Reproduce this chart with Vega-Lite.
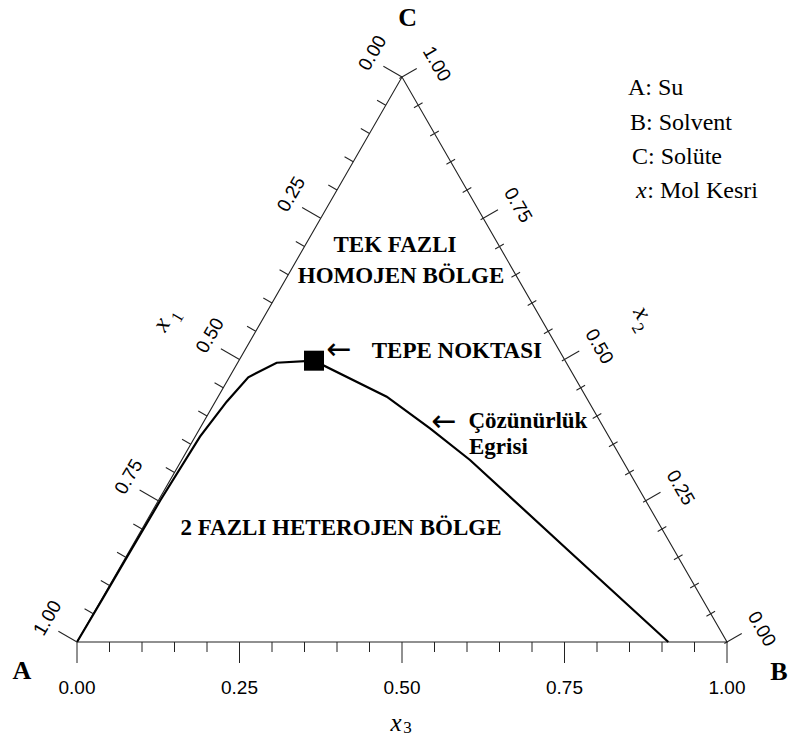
{
  "$schema": "https://vega.github.io/schema/vega-lite/v6.json",
  "width": 650,
  "height": 565,
  "autosize": {"type": "none"},
  "padding": {"left": 77, "top": 77, "right": 63, "bottom": 98},
  "background": "white",
  "config": {"view": {"stroke": null}},
  "datasets": {
    "triangle": [
      {"x": 0, "y": 0, "o": 1},
      {"x": 0.5, "y": 1, "o": 2},
      {"x": 1, "y": 0, "o": 3},
      {"x": 0, "y": 0, "o": 4}
    ],
    "curve": [
      {"x": 0, "y": 0, "o": 1},
      {"x": 0.0392, "y": 0.0761, "o": 2},
      {"x": 0.0772, "y": 0.151, "o": 3},
      {"x": 0.1285, "y": 0.2513, "o": 4},
      {"x": 0.1892, "y": 0.3634, "o": 5},
      {"x": 0.2303, "y": 0.4253, "o": 6},
      {"x": 0.2635, "y": 0.4685, "o": 7},
      {"x": 0.3072, "y": 0.4943, "o": 8},
      {"x": 0.3646, "y": 0.4979, "o": 9},
      {"x": 0.4765, "y": 0.4342, "o": 10},
      {"x": 0.5431, "y": 0.3782, "o": 11},
      {"x": 0.6046, "y": 0.3221, "o": 12},
      {"x": 0.7585, "y": 0.1593, "o": 13},
      {"x": 0.9097, "y": 0, "o": 14}
    ],
    "peak": [{"x": 0.3646, "y": 0.4979}],
    "bottom": [
      {"v": 0, "x": 0, "y": 0, "major": true},
      {"v": 0.05, "x": 0.05, "y": 0, "major": false},
      {"v": 0.1, "x": 0.1, "y": 0, "major": false},
      {"v": 0.15, "x": 0.15, "y": 0, "major": false},
      {"v": 0.2, "x": 0.2, "y": 0, "major": false},
      {"v": 0.25, "x": 0.25, "y": 0, "major": true},
      {"v": 0.3, "x": 0.3, "y": 0, "major": false},
      {"v": 0.35, "x": 0.35, "y": 0, "major": false},
      {"v": 0.4, "x": 0.4, "y": 0, "major": false},
      {"v": 0.45, "x": 0.45, "y": 0, "major": false},
      {"v": 0.5, "x": 0.5, "y": 0, "major": true},
      {"v": 0.55, "x": 0.55, "y": 0, "major": false},
      {"v": 0.6, "x": 0.6, "y": 0, "major": false},
      {"v": 0.65, "x": 0.65, "y": 0, "major": false},
      {"v": 0.7, "x": 0.7, "y": 0, "major": false},
      {"v": 0.75, "x": 0.75, "y": 0, "major": true},
      {"v": 0.8, "x": 0.8, "y": 0, "major": false},
      {"v": 0.85, "x": 0.85, "y": 0, "major": false},
      {"v": 0.9, "x": 0.9, "y": 0, "major": false},
      {"v": 0.95, "x": 0.95, "y": 0, "major": false},
      {"v": 1, "x": 1, "y": 0, "major": true}
    ],
    "left": [
      {"v": 0, "x": 0.5, "y": 1, "major": true},
      {"v": 0.05, "x": 0.475, "y": 0.95, "major": false},
      {"v": 0.1, "x": 0.45, "y": 0.9, "major": false},
      {"v": 0.15, "x": 0.425, "y": 0.85, "major": false},
      {"v": 0.2, "x": 0.4, "y": 0.8, "major": false},
      {"v": 0.25, "x": 0.375, "y": 0.75, "major": true},
      {"v": 0.3, "x": 0.35, "y": 0.7, "major": false},
      {"v": 0.35, "x": 0.325, "y": 0.65, "major": false},
      {"v": 0.4, "x": 0.3, "y": 0.6, "major": false},
      {"v": 0.45, "x": 0.275, "y": 0.55, "major": false},
      {"v": 0.5, "x": 0.25, "y": 0.5, "major": true},
      {"v": 0.55, "x": 0.225, "y": 0.45, "major": false},
      {"v": 0.6, "x": 0.2, "y": 0.4, "major": false},
      {"v": 0.65, "x": 0.175, "y": 0.35, "major": false},
      {"v": 0.7, "x": 0.15, "y": 0.3, "major": false},
      {"v": 0.75, "x": 0.125, "y": 0.25, "major": true},
      {"v": 0.8, "x": 0.1, "y": 0.2, "major": false},
      {"v": 0.85, "x": 0.075, "y": 0.15, "major": false},
      {"v": 0.9, "x": 0.05, "y": 0.1, "major": false},
      {"v": 0.95, "x": 0.025, "y": 0.05, "major": false},
      {"v": 1, "x": 0, "y": 0, "major": true}
    ],
    "right": [
      {"v": 0, "x": 1, "y": 0, "major": true},
      {"v": 0.05, "x": 0.975, "y": 0.05, "major": false},
      {"v": 0.1, "x": 0.95, "y": 0.1, "major": false},
      {"v": 0.15, "x": 0.925, "y": 0.15, "major": false},
      {"v": 0.2, "x": 0.9, "y": 0.2, "major": false},
      {"v": 0.25, "x": 0.875, "y": 0.25, "major": true},
      {"v": 0.3, "x": 0.85, "y": 0.3, "major": false},
      {"v": 0.35, "x": 0.825, "y": 0.35, "major": false},
      {"v": 0.4, "x": 0.8, "y": 0.4, "major": false},
      {"v": 0.45, "x": 0.775, "y": 0.45, "major": false},
      {"v": 0.5, "x": 0.75, "y": 0.5, "major": true},
      {"v": 0.55, "x": 0.725, "y": 0.55, "major": false},
      {"v": 0.6, "x": 0.7, "y": 0.6, "major": false},
      {"v": 0.65, "x": 0.675, "y": 0.65, "major": false},
      {"v": 0.7, "x": 0.65, "y": 0.7, "major": false},
      {"v": 0.75, "x": 0.625, "y": 0.75, "major": true},
      {"v": 0.8, "x": 0.6, "y": 0.8, "major": false},
      {"v": 0.85, "x": 0.575, "y": 0.85, "major": false},
      {"v": 0.9, "x": 0.55, "y": 0.9, "major": false},
      {"v": 0.95, "x": 0.525, "y": 0.95, "major": false},
      {"v": 1, "x": 0.5, "y": 1, "major": true}
    ],
    "titles": [
      {"edge": "bottom", "x": 0.5, "y": 0},
      {"edge": "left", "x": 0.25, "y": 0.5},
      {"edge": "right", "x": 0.75, "y": 0.5}
    ],
    "notes": [
      {"kind": "region", "text": "TEK FAZLI", "x": 0.4892, "y": 0.6903},
      {"kind": "region", "text": "HOMOJEN BÖLGE", "x": 0.4985, "y": 0.6354},
      {"kind": "region", "text": "2 FAZLI HETEROJEN BÖLGE", "x": 0.4062, "y": 0.1894},
      {"kind": "callout", "text": "TEPE NOKTASI", "x": 0.4534, "y": 0.5027},
      {"kind": "callout", "text": "Çözünürlük", "x": 0.6023, "y": 0.3788},
      {"kind": "callout", "text": "Egrisi", "x": 0.6031, "y": 0.3327},
      {"kind": "arrow", "text": "←", "x": 0.4031, "y": 0.5168},
      {"kind": "arrow", "text": "←", "x": 0.5646, "y": 0.3899},
      {"kind": "legend", "text": "A: Su", "x": 0.8477, "y": 0.9681},
      {"kind": "legend", "text": "B: Solvent", "x": 0.8508, "y": 0.9062},
      {"kind": "legend", "text": "C: Solüte", "x": 0.8538, "y": 0.8469},
      {"kind": "legend", "text": ": Mol Kesri", "x": 0.8774, "y": 0.7867},
      {"kind": "legendx", "text": "x", "x": 0.86, "y": 0.7867},
      {"kind": "vertex", "text": "A", "x": -0.0846, "y": -0.0655},
      {"kind": "vertex", "text": "B", "x": 1.08, "y": -0.0673},
      {"kind": "vertex", "text": "C", "x": 0.5085, "y": 1.0903}
    ]
  },
  "encoding": {
    "x": {"field": "x", "type": "quantitative", "scale": {"domain": [0, 1], "nice": false, "zero": false}, "axis": null},
    "y": {"field": "y", "type": "quantitative", "scale": {"domain": [0, 1], "nice": false, "zero": false}, "axis": null}
  },
  "layer": [
    {
      "data": {"name": "triangle"},
      "mark": {"type": "line", "stroke": "#222", "strokeWidth": 1.1, "clip": false},
      "encoding": {"order": {"field": "o", "type": "quantitative"}}
    },
    {
      "data": {"name": "curve"},
      "mark": {"type": "line", "stroke": "#000", "strokeWidth": 2.2, "clip": false},
      "encoding": {"order": {"field": "o", "type": "quantitative"}}
    },
    {
      "data": {"name": "peak"},
      "mark": {"type": "point", "shape": "square", "filled": true, "size": 400, "color": "#000", "opacity": 1}
    },
    {
      "data": {"name": "bottom"},
      "transform": [{"filter": "datum.major"}],
      "mark": {"type": "point", "shape": "M0,0L0,1", "filled": false, "size": 1764, "stroke": "#222", "strokeWidth": 1, "opacity": 1}
    },
    {
      "data": {"name": "bottom"},
      "transform": [{"filter": "!datum.major"}],
      "mark": {"type": "point", "shape": "M0,0L0,1", "filled": false, "size": 400, "stroke": "#222", "strokeWidth": 1, "opacity": 1}
    },
    {
      "data": {"name": "left"},
      "transform": [{"filter": "datum.major"}],
      "mark": {"type": "point", "shape": "M0,0L0,-1", "angle": -60, "filled": false, "size": 1849, "stroke": "#222", "strokeWidth": 1, "opacity": 1}
    },
    {
      "data": {"name": "left"},
      "transform": [{"filter": "!datum.major"}],
      "mark": {"type": "point", "shape": "M0,0L0,-1", "angle": -60, "filled": false, "size": 400, "stroke": "#222", "strokeWidth": 1, "opacity": 1}
    },
    {
      "data": {"name": "right"},
      "transform": [{"filter": "datum.major"}],
      "mark": {"type": "point", "shape": "M0,0.18L0,-1", "angle": 60, "filled": false, "size": 1156, "stroke": "#222", "strokeWidth": 1, "opacity": 1}
    },
    {
      "data": {"name": "right"},
      "transform": [{"filter": "!datum.major"}],
      "mark": {"type": "point", "shape": "M0,0.5L0,-0.5", "angle": 60, "filled": false, "size": 400, "stroke": "#222", "strokeWidth": 1, "opacity": 1}
    },
    {
      "data": {"name": "bottom"},
      "transform": [{"filter": "datum.major"}],
      "mark": {"type": "text", "font": "Liberation Sans", "fontSize": 19, "align": "center", "baseline": "middle", "dy": 46, "color": "#000"},
      "encoding": {"text": {"field": "v", "type": "quantitative", "format": ".2f"}}
    },
    {
      "data": {"name": "left"},
      "transform": [{"filter": "datum.major"}],
      "mark": {"type": "text", "font": "Liberation Sans", "fontSize": 19, "align": "center", "baseline": "middle", "angle": -60, "dx": 6, "dy": -37.5, "color": "#000"},
      "encoding": {"text": {"field": "v", "type": "quantitative", "format": ".2f"}}
    },
    {
      "data": {"name": "right"},
      "transform": [{"filter": "datum.major"}],
      "mark": {"type": "text", "font": "Liberation Sans", "fontSize": 19, "align": "center", "baseline": "middle", "angle": 60, "dx": 6, "dy": -36.5, "color": "#000"},
      "encoding": {"text": {"field": "v", "type": "quantitative", "format": ".2f"}}
    },
    {
      "data": {"name": "titles"},
      "transform": [{"filter": "datum.edge === 'bottom'"}],
      "mark": {"type": "text", "text": "x", "font": "Liberation Serif", "fontStyle": "italic", "fontSize": 25, "align": "center", "baseline": "middle", "dx": -6, "dy": 80.5, "color": "#000"}
    },
    {
      "data": {"name": "titles"},
      "transform": [{"filter": "datum.edge === 'bottom'"}],
      "mark": {"type": "text", "text": "3", "font": "Liberation Serif", "fontSize": 17, "align": "center", "baseline": "middle", "dx": 5.5, "dy": 85.5, "color": "#000"}
    },
    {
      "data": {"name": "titles"},
      "transform": [{"filter": "datum.edge === 'left'"}],
      "mark": {"type": "text", "text": "x", "font": "Liberation Serif", "fontStyle": "italic", "fontSize": 25, "align": "center", "baseline": "middle", "angle": -60, "dx": -8.5, "dy": -85.5, "color": "#000"}
    },
    {
      "data": {"name": "titles"},
      "transform": [{"filter": "datum.edge === 'left'"}],
      "mark": {"type": "text", "text": "1", "font": "Liberation Serif", "fontSize": 17, "align": "center", "baseline": "middle", "angle": -60, "dx": 5.7, "dy": -74.5, "color": "#000"}
    },
    {
      "data": {"name": "titles"},
      "transform": [{"filter": "datum.edge === 'right'"}],
      "mark": {"type": "text", "text": "x", "font": "Liberation Serif", "fontStyle": "italic", "fontSize": 25, "align": "center", "baseline": "middle", "angle": 60, "dx": -1.7, "dy": -91, "color": "#000"}
    },
    {
      "data": {"name": "titles"},
      "transform": [{"filter": "datum.edge === 'right'"}],
      "mark": {"type": "text", "text": "2", "font": "Liberation Serif", "fontSize": 17, "align": "center", "baseline": "middle", "angle": 60, "dx": 9.6, "dy": -79, "color": "#000"}
    },
    {
      "data": {"name": "notes"},
      "transform": [{"filter": "datum.kind === 'region'"}],
      "mark": {"type": "text", "font": "Liberation Serif", "fontWeight": "bold", "fontSize": 23, "align": "center", "baseline": "alphabetic", "color": "#000"},
      "encoding": {"text": {"field": "text", "type": "nominal"}}
    },
    {
      "data": {"name": "notes"},
      "transform": [{"filter": "datum.kind === 'callout'"}],
      "mark": {"type": "text", "font": "Liberation Serif", "fontWeight": "bold", "fontSize": 23, "align": "left", "baseline": "alphabetic", "color": "#000"},
      "encoding": {"text": {"field": "text", "type": "nominal"}}
    },
    {
      "data": {"name": "notes"},
      "transform": [{"filter": "datum.kind === 'arrow'"}],
      "mark": {"type": "text", "font": "DejaVu Sans", "fontWeight": "normal", "fontSize": 30, "align": "center", "baseline": "middle", "color": "#000"},
      "encoding": {"text": {"field": "text", "type": "nominal"}}
    },
    {
      "data": {"name": "notes"},
      "transform": [{"filter": "datum.kind === 'legend'"}],
      "mark": {"type": "text", "font": "Liberation Serif", "fontSize": 24, "align": "left", "baseline": "alphabetic", "color": "#000"},
      "encoding": {"text": {"field": "text", "type": "nominal"}}
    },
    {
      "data": {"name": "notes"},
      "transform": [{"filter": "datum.kind === 'legendx'"}],
      "mark": {"type": "text", "font": "Liberation Serif", "fontStyle": "italic", "fontSize": 24, "align": "left", "baseline": "alphabetic", "color": "#000"},
      "encoding": {"text": {"field": "text", "type": "nominal"}}
    },
    {
      "data": {"name": "notes"},
      "transform": [{"filter": "datum.kind === 'vertex'"}],
      "mark": {"type": "text", "font": "Liberation Serif", "fontWeight": "bold", "fontSize": 26, "align": "center", "baseline": "alphabetic", "color": "#000"},
      "encoding": {"text": {"field": "text", "type": "nominal"}}
    }
  ]
}
